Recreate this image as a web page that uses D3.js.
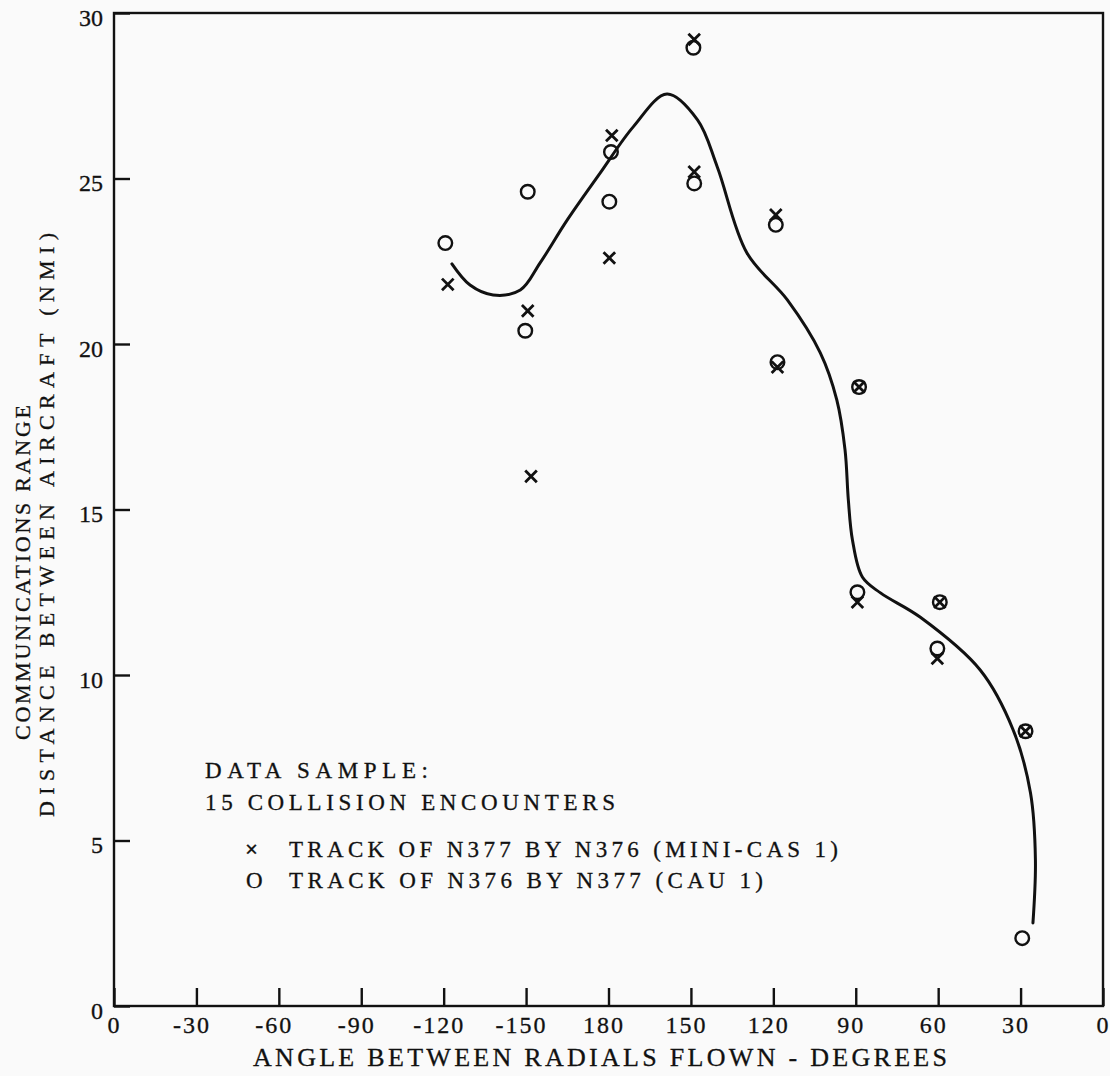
<!DOCTYPE html>
<html><head><meta charset="utf-8">
<script src="https://cdn.jsdelivr.net/npm/d3@7"></script>
<style>body{margin:0;background:#fafafa} svg{display:block}</style>
</head><body><svg id="c" width="1110" height="1076"></svg>
<script>
// Axis tick labels (equally spaced positions 0..12)
const xTickLabels = ["0","-30","-60","-90","-120","-150","180","150","120","90","60","30","0"];
const yTicks = [0,5,10,15,20,25,30];

// × : TRACK OF N377 BY N376 (MINI-CAS 1)  — position along axis (tick units), range NMI
const crossPos = [4.05, 5.02, 5.06, 6.04, 6.01, 7.04, 7.04, 8.03, 8.05, 9.04, 9.02, 10.02, 9.99, 11.06];
const crossVal = [21.8, 21.0, 16.0, 26.3, 22.6, 29.2, 25.2, 23.9, 19.3, 18.7, 12.2, 12.2, 10.5, 8.3];

// O : TRACK OF N376 BY N377 (CAU 1)
const circlePos = [4.02, 5.02, 4.99, 6.03, 6.01, 7.03, 7.04, 8.03, 8.05, 9.04, 9.02, 10.02, 9.99, 11.06, 11.02];
const circleVal = [23.05, 24.6, 20.4, 25.8, 24.3, 28.95, 24.85, 23.6, 19.45, 18.7, 12.5, 12.2, 10.8, 8.3, 2.05];

// Hand-drawn fitted curve
const curvePos = [4.10, 4.32, 4.60, 4.93, 5.17, 5.50, 5.90, 6.30, 6.71, 7.08, 7.32, 7.68, 8.17, 8.57, 8.77, 8.87, 8.91, 8.96, 9.08, 9.30, 9.78, 10.51, 10.91, 11.12, 11.18, 11.15];
const curveVal = [22.42, 21.78, 21.48, 21.63, 22.45, 23.75, 25.17, 26.56, 27.55, 26.77, 25.35, 22.75, 21.33, 19.73, 18.31, 16.80, 15.29, 14.08, 12.96, 12.48, 11.75, 10.15, 8.34, 6.44, 4.41, 2.51];

const svg = d3.select("#c");
const FONT = "'Liberation Serif', 'DejaVu Serif', serif";
const ink = "#111";

svg.append("rect").attr("width",1110).attr("height",1076).attr("fill","#fafafa");

const x = d3.scaleLinear().domain([0,12]).range([114,1103]);
const y = d3.scaleLinear().domain([0,30]).range([1006,13]);

// frame
svg.append("rect").attr("x",x(0)).attr("y",y(30)).attr("width",x(12)-x(0)).attr("height",y(0)-y(30))
  .attr("fill","none").attr("stroke",ink).attr("stroke-width",2.4);

// x axis
const gx = svg.append("g").attr("transform",`translate(0,${y(0)})`)
  .call(d3.axisBottom(x).tickValues(d3.range(13)).tickFormat(i=>xTickLabels[i]).tickSizeInner(-18).tickSizeOuter(0).tickPadding(10));
gx.select(".domain").remove();
gx.selectAll("line").attr("stroke",ink).attr("stroke-width",2.4);
gx.selectAll("text").attr("font-family",FONT).attr("font-size",24).attr("fill",ink)
  .attr("letter-spacing",2).attr("stroke",ink).attr("stroke-width",0.3)
  .attr("dx",(d)=> (d===0||d===12)?0:-5);

// y axis
const gy = svg.append("g").attr("transform",`translate(${x(0)},0)`)
  .call(d3.axisLeft(y).tickValues(yTicks).tickSizeInner(-16).tickSizeOuter(0).tickPadding(11));
gy.select(".domain").remove();
gy.selectAll("line").attr("stroke",ink).attr("stroke-width",2.4);
gy.selectAll("text").attr("font-family",FONT).attr("font-size",24).attr("fill",ink)
  .attr("stroke",ink).attr("stroke-width",0.3).attr("dy","0.5em");

// curve
const line = d3.line().x(d=>x(d[0])).y(d=>y(d[1])).curve(d3.curveCatmullRom.alpha(0.5));
svg.append("path").datum(curvePos.map((p,i)=>[p,curveVal[i]]))
  .attr("d",line).attr("fill","none").attr("stroke",ink).attr("stroke-width",3).attr("stroke-linecap","round");

// circles
svg.append("g").selectAll("circle").data(circlePos.map((p,i)=>[p,circleVal[i]])).join("circle")
  .attr("cx",d=>x(d[0])).attr("cy",d=>y(d[1])).attr("r",6.8)
  .attr("fill","none").attr("stroke",ink).attr("stroke-width",2.4);

// crosses
const s = 5.8;
svg.append("g").selectAll("path").data(crossPos.map((p,i)=>[p,crossVal[i]])).join("path")
  .attr("d",d=>{const cx=x(d[0]), cy=y(d[1]); return `M${cx-s},${cy-s}L${cx+s},${cy+s}M${cx-s},${cy+s}L${cx+s},${cy-s}`;})
  .attr("stroke",ink).attr("stroke-width",2.8).attr("fill","none");

// axis titles
svg.append("text").attr("x",253).attr("y",1066).attr("font-family",FONT).attr("font-size",26).attr("fill",ink)
  .attr("stroke",ink).attr("stroke-width",0.3)
  .attr("textLength",694).attr("lengthAdjust","spacing").text("ANGLE BETWEEN RADIALS FLOWN - DEGREES");

svg.append("text").attr("transform","translate(30,740) rotate(-90)").attr("font-family",FONT).attr("font-size",22).attr("fill",ink)
  .attr("stroke",ink).attr("stroke-width",0.3)
  .attr("textLength",335).attr("lengthAdjust","spacing").text("COMMUNICATIONS RANGE");
svg.append("text").attr("transform","translate(54,817) rotate(-90)").attr("font-family",FONT).attr("font-size",22).attr("fill",ink)
  .attr("stroke",ink).attr("stroke-width",0.3)
  .attr("textLength",584).attr("lengthAdjust","spacing").text("DISTANCE BETWEEN AIRCRAFT (NMI)");

// legend / annotation
const leg = svg.append("g").attr("font-family",FONT).attr("font-size",23).attr("fill",ink)
  .attr("stroke",ink).attr("stroke-width",0.3);
leg.append("text").attr("x",205).attr("y",778).attr("textLength",223).attr("lengthAdjust","spacing").text("DATA SAMPLE:");
leg.append("text").attr("x",205).attr("y",810).attr("textLength",410).attr("lengthAdjust","spacing").text("15 COLLISION ENCOUNTERS");
leg.append("text").attr("x",245).attr("y",857).attr("font-weight","bold").text("×");
leg.append("text").attr("x",289).attr("y",857).attr("textLength",549).attr("lengthAdjust","spacing").text("TRACK OF N377 BY N376 (MINI-CAS 1)");
leg.append("text").attr("x",246).attr("y",888).text("O");
leg.append("text").attr("x",289).attr("y",888).attr("textLength",474).attr("lengthAdjust","spacing").text("TRACK OF N376 BY N377 (CAU 1)");
</script></body></html>
